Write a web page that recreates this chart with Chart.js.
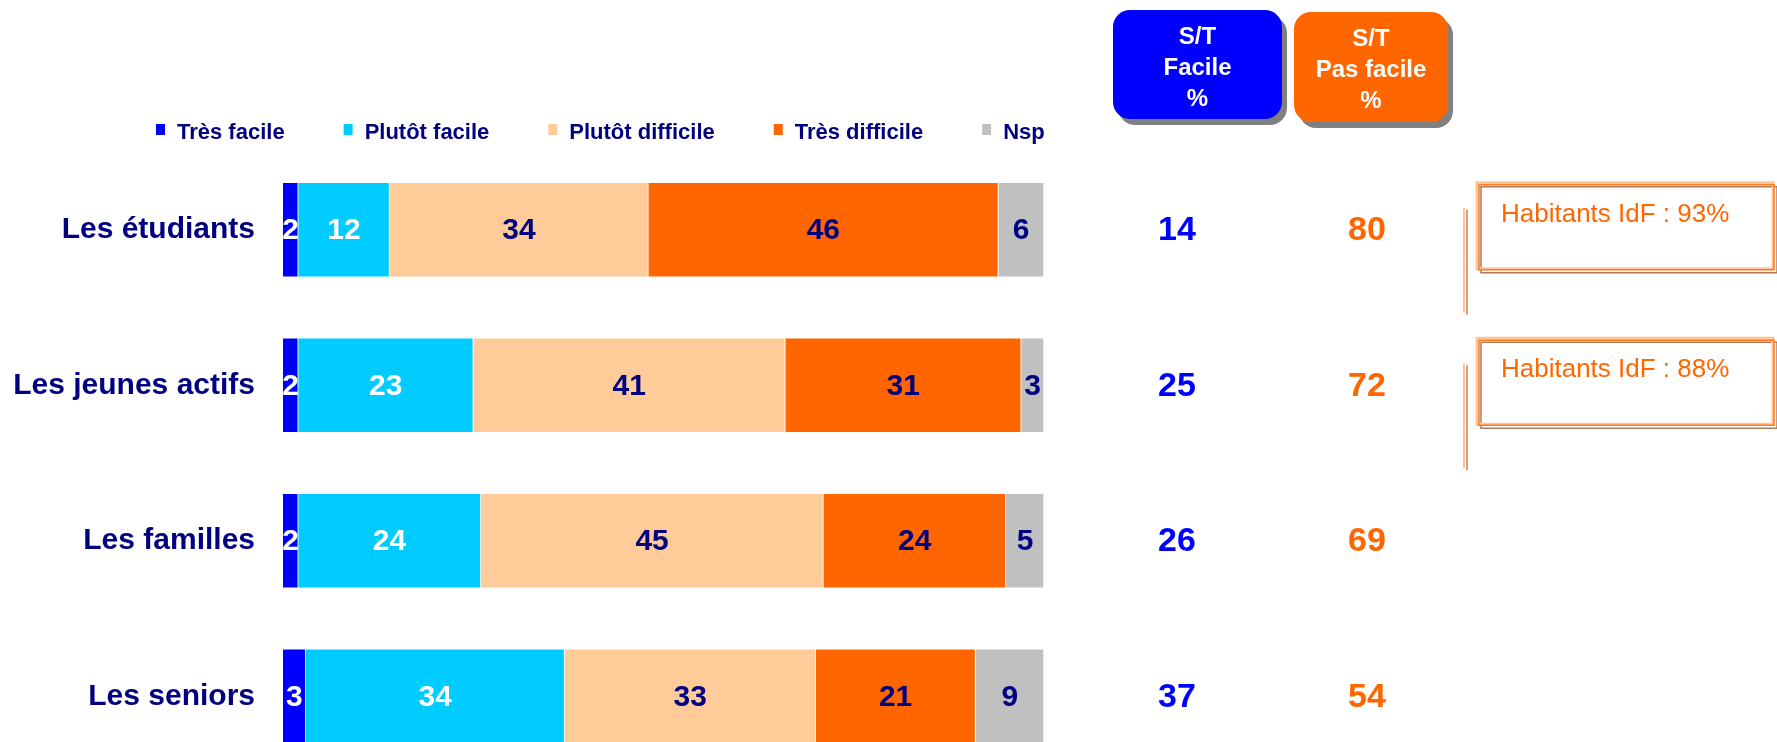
<!DOCTYPE html>
<html>
<head>
<meta charset="utf-8">
<script src="https://cdn.jsdelivr.net/npm/chart.js@4.4.1/dist/chart.umd.min.js"></script>
<style>
  html, body { margin: 0; padding: 0; background: #fff; overflow: hidden; }
  canvas { display: block; }
</style>
</head>
<body>
<canvas id="chart-access" width="1777" height="820"></canvas>
<script>
// données
const categories = ["Les étudiants", "Les jeunes actifs", "Les familles", "Les seniors"];
const seriesNames = ["Très facile", "Plutôt facile", "Plutôt difficile", "Très difficile", "Nsp"];
const tresFacile = [2, 2, 2, 3];
const plutotFacile = [12, 23, 24, 34];
const plutotDifficile = [34, 41, 45, 33];
const tresDifficile = [46, 31, 24, 21];
const nsp = [6, 3, 5, 9];
// sous-totaux
const stFacile = [14, 25, 26, 37];
const stPasFacile = [80, 72, 69, 54];
const headerFacile = ["S/T", "Facile", "%"];
const headerPasFacile = ["S/T", "Pas facile", "%"];
// encadrés
const idfNotes = ["Habitants IdF : 93%", "Habitants IdF : 88%"];

const FONT = '"Liberation Sans", Arial, sans-serif';
const NAVY = "#000080";
const seriesColors = ["#0000FF", "#00CCFF", "#FFCC99", "#FF6600", "#C0C0C0"];
const labelColors = ["#FFFFFF", "#FFFFFF", NAVY, NAVY, NAVY];
const seriesData = [tresFacile, plutotFacile, plutotDifficile, tresDifficile, nsp];

// étiquettes dans les barres
const barLabelsPlugin = {
  id: "barLabels",
  afterDatasetsDraw(chart) {
    const ctx = chart.ctx;
    ctx.save();
    ctx.font = `bold 30px ${FONT}`;
    ctx.textAlign = "center";
    ctx.textBaseline = "middle";
    chart.data.datasets.forEach((ds, di) => {
      chart.getDatasetMeta(di).data.forEach((bar, i) => {
        ctx.fillStyle = labelColors[di];
        ctx.fillText(String(ds.data[i]), (bar.x + bar.base) / 2, bar.y + 1);
      });
    });
    ctx.restore();
  },
};

// légende, en-têtes, sous-totaux et encadrés
const extrasPlugin = {
  id: "extras",
  afterDraw(chart) {
    const ctx = chart.ctx;
    const yScale = chart.scales.y;
    ctx.save();

    // légende
    ctx.font = `bold 22px ${FONT}`;
    ctx.textBaseline = "middle";
    ctx.textAlign = "left";
    let lx = 156;
    seriesNames.forEach((name, i) => {
      ctx.fillStyle = seriesColors[i];
      ctx.fillRect(lx, 124, 9, 11);
      ctx.fillStyle = NAVY;
      ctx.fillText(name, lx + 21, 133);
      lx += 21 + ctx.measureText(name).width + 59;
    });

    // en-têtes S/T
    function headerBox(x, y, w, h, color, lines) {
      ctx.fillStyle = "#808080";
      ctx.beginPath();
      ctx.roundRect(x + 5, y + 6, w, h, 17);
      ctx.fill();
      ctx.fillStyle = color;
      ctx.beginPath();
      ctx.roundRect(x, y, w, h, 17);
      ctx.fill();
      ctx.fillStyle = "#FFFFFF";
      ctx.font = `bold 24px ${FONT}`;
      ctx.textAlign = "center";
      lines.forEach((t, k) => ctx.fillText(t, x + w / 2, y + 27 + k * 31));
    }
    headerBox(1113, 10, 169, 109, "#0000FF", headerFacile);
    headerBox(1294, 12, 154, 110, "#FF6600", headerPasFacile);

    // sous-totaux
    ctx.font = `bold 34px ${FONT}`;
    ctx.textAlign = "center";
    stFacile.forEach((v, i) => {
      const y = yScale.getPixelForValue(i) + 1;
      ctx.fillStyle = "#0000FF";
      ctx.fillText(String(v), 1177, y);
      ctx.fillStyle = "#FF6600";
      ctx.fillText(String(stPasFacile[i]), 1367, y);
    });

    // encadrés Habitants IdF
    idfNotes.forEach((note, i) => {
      const top = yScale.getPixelForValue(i) - 47;
      const x = 1477, w = 296, h = 86;
      // trait vertical
      ctx.lineWidth = 2;
      ctx.strokeStyle = "#FFC49A";
      ctx.beginPath();
      ctx.moveTo(1464, top + 25);
      ctx.lineTo(1464, top + 130);
      ctx.stroke();
      ctx.lineWidth = 1.5;
      ctx.strokeStyle = "#C8825A";
      ctx.beginPath();
      ctx.moveTo(1467, top + 27);
      ctx.lineTo(1467, top + 132);
      ctx.stroke();
      // cadre
      ctx.lineWidth = 1.5;
      ctx.strokeStyle = "#B07A5A";
      ctx.strokeRect(x + 4, top + 4, w, h);
      ctx.lineWidth = 3;
      ctx.strokeStyle = "#FFC49A";
      ctx.strokeRect(x, top, w, h);
      ctx.lineWidth = 1.5;
      ctx.strokeStyle = "#FF7A1F";
      ctx.strokeRect(x + 2, top + 2, w - 1, h - 1);
      // texte
      ctx.fillStyle = "#FF6600";
      ctx.font = `26px ${FONT}`;
      ctx.textAlign = "left";
      ctx.fillText(note, 1501, top + 32);
    });

    ctx.restore();
  },
};

const ctx_access = document.getElementById("chart-access");

new Chart(ctx_access, {
  type: "bar",
  data: {
    labels: categories,
    datasets: seriesNames.map((name, i) => ({
      label: name,
      data: seriesData[i],
      backgroundColor: seriesColors[i],
      borderColor: "#FFFFFF",
      borderWidth: 1,
      barThickness: 95,
    })),
  },
  options: {
    indexAxis: "y",
    responsive: false,
    animation: false,
    // le bas (820 - 46) vient du padding des ticks de l'axe y
    layout: { padding: { top: 152, bottom: 0, left: 0, right: 733 } },
    plugins: {
      legend: { display: false },
      tooltip: { enabled: false },
    },
    scales: {
      x: { stacked: true, min: 0, max: 100, display: false },
      y: {
        stacked: true,
        grid: { display: false, drawTicks: false },
        border: { display: false },
        ticks: {
          color: NAVY,
          padding: 28,
          font: { family: FONT, size: 30, weight: "bold" },
        },
        afterFit(scale) {
          scale.width = 283;
        },
      },
    },
  },
  plugins: [barLabelsPlugin, extrasPlugin],
});
</script>
</body>
</html>
